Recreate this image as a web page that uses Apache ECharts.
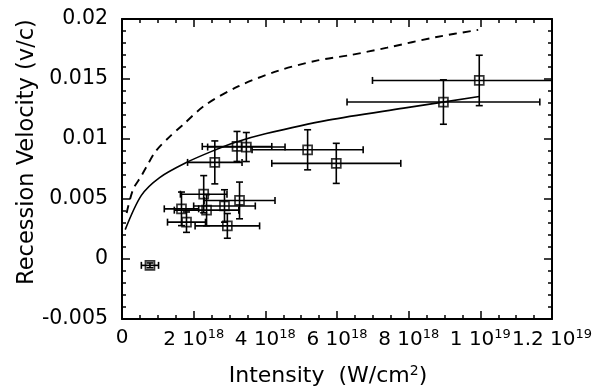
<!DOCTYPE html>
<html><head><meta charset="utf-8">
<script src="https://cdn.jsdelivr.net/npm/echarts@6/dist/echarts.min.js"></script>
<style>html,body{margin:0;padding:0;background:#fff}#c{width:603px;height:389px}</style>
</head><body><div id="c"></div>
<script>
// measured points: intensity (W/cm^2), recession velocity (v/c), and their error half-widths
const pointX    = [0.78e18, 1.66e18, 1.80e18, 2.28e18, 2.36e18, 2.86e18, 2.94e18, 3.28e18, 2.59e18, 3.21e18, 3.47e18, 5.18e18, 5.98e18, 8.97e18, 9.97e18];
const pointY    = [-0.00053, 0.00418, 0.00307, 0.0054, 0.00407, 0.00442, 0.00276, 0.00488, 0.00805, 0.00938, 0.00933, 0.0091, 0.00797, 0.01308, 0.01488];
const pointXErr = [0.24e18, 0.48e18, 0.53e18, 0.65e18, 0.9e18, 0.86e18, 0.9e18, 0.99e18, 0.76e18, 0.97e18, 1.08e18, 1.55e18, 1.8e18, 2.69e18, 2.98e18];
const pointYErr = [0.0002, 0.0014, 0.00085, 0.00155, 0.0013, 0.00135, 0.00103, 0.00153, 0.00179, 0.00125, 0.00121, 0.00167, 0.00167, 0.00185, 0.0021];

// model curves
const solidX = [0.09e18, 0.54e18, 1.05e18, 1.78e18, 2.52e18, 3.17e18, 4.0e18, 5.75e18, 7.86e18, 9.97e18];
const solidY = [0.00245, 0.0053, 0.00679, 0.00802, 0.00899, 0.00973, 0.01043, 0.01157, 0.01257, 0.01354];
const dashX  = [0.13e18, 0.31e18, 0.54e18, 0.72e18, 0.95e18, 1.31e18, 1.68e18, 2.32e18, 3.24e18, 4.35e18, 5.46e18, 6.38e18, 7.4e18, 8.78e18, 9.94e18];
const dashY  = [0.00384, 0.0058, 0.00692, 0.00789, 0.00902, 0.01014, 0.01113, 0.01282, 0.01438, 0.01568, 0.01655, 0.017, 0.01761, 0.0185, 0.01909];

// tick labels
const xTickLabels = ['0', '2 10^18', '4 10^18', '6 10^18', '8 10^18', '1 10^19', '1.2 10^19'];
const yTickLabels = ['-0.005', '0', '0.005', '0.01', '0.015', '0.02'];

const FONT = 'DejaVu Sans';
const chart = echarts.init(document.getElementById('c'), null, {renderer: 'canvas'});

const pointData = pointX.map((x, i) => [x, pointY[i], pointXErr[i], pointYErr[i]]);
const solidData = solidX.map((x, i) => [x, solidY[i]]);
const dashData = dashX.map((x, i) => [x, dashY[i]]);

function renderErr(params, api) {
  const x = api.value(0), y = api.value(1), xe = api.value(2), ye = api.value(3);
  const cs = params.coordSys;
  const L = cs.x, R = cs.x + cs.width, T = cs.y, B = cs.y + cs.height;
  const c = api.coord([x, y]);
  const pl = api.coord([x - xe, y]), pr = api.coord([x + xe, y]);
  const pt = api.coord([x, y + ye]), pb = api.coord([x, y - ye]);
  const cap = 3.5;
  const st = {stroke: '#000', lineWidth: 1.6};
  const ch = [];
  const lx = Math.max(pl[0], L), rx = Math.min(pr[0], R);
  ch.push({type: 'line', shape: {x1: lx, y1: c[1], x2: rx, y2: c[1]}, style: st});
  if (pl[0] >= L) ch.push({type: 'line', shape: {x1: pl[0], y1: c[1] - cap, x2: pl[0], y2: c[1] + cap}, style: st});
  if (pr[0] <= R) ch.push({type: 'line', shape: {x1: pr[0], y1: c[1] - cap, x2: pr[0], y2: c[1] + cap}, style: st});
  const ty = Math.max(pt[1], T), by = Math.min(pb[1], B);
  ch.push({type: 'line', shape: {x1: c[0], y1: ty, x2: c[0], y2: by}, style: st});
  if (pt[1] >= T) ch.push({type: 'line', shape: {x1: c[0] - cap, y1: pt[1], x2: c[0] + cap, y2: pt[1]}, style: st});
  if (pb[1] <= B) ch.push({type: 'line', shape: {x1: c[0] - cap, y1: pb[1], x2: c[0] + cap, y2: pb[1]}, style: st});
  return {type: 'group', children: ch};
}

const tickCommon = {
  axisLine: {show: true, onZero: false, lineStyle: {color: '#000', width: 2}},
  axisTick: {show: true, inside: true, length: 8, lineStyle: {color: '#000', width: 1.5}},
  minorTick: {show: true, length: 4, lineStyle: {color: '#000', width: 1.5}},
  splitLine: {show: false}
};

function xFmt(v) {
  const s = xTickLabels[Math.round(v / 2e18)];
  if (s === undefined) return '';
  const p = s.split('^');
  return p.length > 1 ? '{n|' + p[0] + '}{s|' + p[1] + '}' : '{n|' + p[0] + '}';
}
function yFmt(v) {
  const s = yTickLabels[Math.round(v / 0.005) + 1];
  return s === undefined ? '' : s;
}

const richX = {
  n: {fontSize: 20, fontFamily: FONT, color: '#000'},
  s: {fontSize: 13, fontFamily: FONT, color: '#000', padding: [0, 0, 10, 0]}
};

const option = {
  animation: false,
  backgroundColor: '#fff',
  grid: {left: 122, right: 51, top: 19, bottom: 70, containLabel: false, outerBoundsMode: 'none'},
  xAxis: [
    Object.assign({}, tickCommon, {
      type: 'value', min: 0, max: 1.2e19, interval: 2e18, position: 'bottom',
      minorTick: Object.assign({}, tickCommon.minorTick, {splitNumber: 4}),
      axisLabel: {show: true, margin: 9, formatter: xFmt, rich: richX, hideOverlap: false, showMinLabel: true, showMaxLabel: true},
      name: '{a|Intensity  (W/cm}{s|2}{a|)}',
      nameLocation: 'middle', nameGap: 45, nameMoveOverlap: false,
      nameTextStyle: {
        padding: [0, 18, 0, 0],
        rich: {
          a: {fontSize: 22, fontFamily: FONT, color: '#000'},
          s: {fontSize: 14, fontFamily: FONT, color: '#000', padding: [0, 0, 10, 0]}
        }
      }
    }),
    Object.assign({}, tickCommon, {
      type: 'value', min: 0, max: 1.2e19, interval: 2e18, position: 'top',
      minorTick: Object.assign({}, tickCommon.minorTick, {splitNumber: 4}),
      axisLabel: {show: false}
    })
  ],
  yAxis: [
    Object.assign({}, tickCommon, {
      type: 'value', min: -0.005, max: 0.02, interval: 0.005, position: 'left',
      minorTick: Object.assign({}, tickCommon.minorTick, {splitNumber: 5}),
      axisLabel: {show: true, margin: 14, formatter: yFmt, fontSize: 20.5, fontFamily: FONT, color: '#000', showMinLabel: true, showMaxLabel: true},
      name: 'Recession Velocity (v/c)',
      nameLocation: 'middle', nameGap: 83, nameMoveOverlap: false,
      nameTextStyle: {fontSize: 22.5, fontFamily: FONT, color: '#000', padding: [0, 0, 0, 34]}
    }),
    Object.assign({}, tickCommon, {
      type: 'value', min: -0.005, max: 0.02, interval: 0.005, position: 'right',
      minorTick: Object.assign({}, tickCommon.minorTick, {splitNumber: 5}),
      axisLabel: {show: false}
    })
  ],
  series: [
    {
      name: 'Model (solid)', type: 'line', data: solidData, showSymbol: false,
      smooth: 0.3,
      lineStyle: {color: '#000', width: 1.6}, z: 2
    },
    {
      name: 'Model (dashed)', type: 'line', data: dashData, showSymbol: false,
      smooth: 0.3,
      lineStyle: {color: '#000', width: 1.9, type: [8, 6]}, z: 2
    },
    {
      name: 'Error bars', type: 'custom', data: pointData, renderItem: renderErr,
      encode: {x: 0, y: 1}, z: 3
    },
    {
      name: 'Measured', type: 'scatter', data: pointData.map(d => [d[0], d[1]]),
      symbol: 'rect', symbolSize: 9,
      itemStyle: {color: 'rgba(0,0,0,0)', borderColor: '#000', borderWidth: 1.7}, z: 4
    }
  ]
};
chart.setOption(option);
</script>
</body></html>
